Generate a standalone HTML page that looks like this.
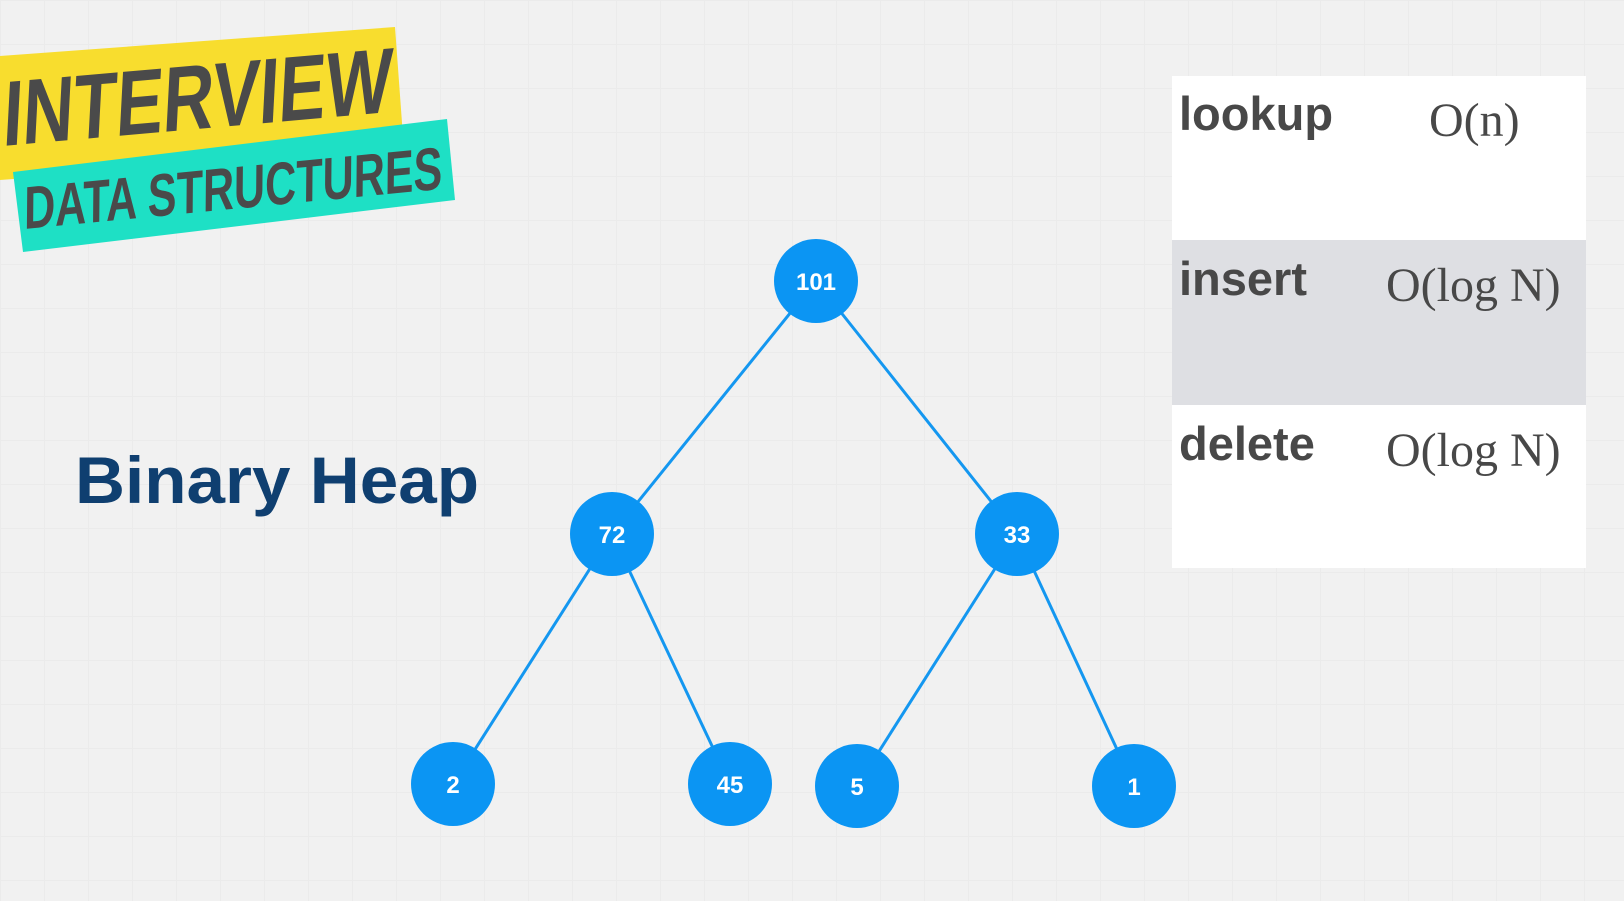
<!DOCTYPE html>
<html><head><meta charset="utf-8"><style>
html,body{margin:0;padding:0;}
body{width:1624px;height:901px;overflow:hidden;background:#f1f1f1;
background-image:linear-gradient(#ebebeb 1px,transparent 1px),linear-gradient(90deg,#ebebeb 1px,transparent 1px);
background-size:44px 44px;position:relative;font-family:"Liberation Sans",sans-serif;}
svg{position:absolute;left:0;top:0;}
</style></head><body>
<svg width="1624" height="901" viewBox="0 0 1624 901">
  <polygon points="0,56 395,27 404,150 0,180" fill="#f8dd2e"/>
  <text x="0" y="0" transform="translate(2,146) rotate(-5) skewX(-8)" font-family="'Liberation Sans Narrow','Liberation Sans',sans-serif" font-weight="bold" font-size="92" fill="#4a4a4a" textLength="390" lengthAdjust="spacingAndGlyphs">INTERVIEW</text>
  <polygon points="13,172 447,119 455,200 23,252" fill="#1ee0c5"/>
  <text x="0" y="0" transform="translate(24,229) rotate(-5.5) skewX(-6)" font-family="'Liberation Sans Narrow','Liberation Sans',sans-serif" font-weight="bold" font-size="60" fill="#4a4a4a" textLength="420" lengthAdjust="spacingAndGlyphs">DATA STRUCTURES</text>

  <text x="75" y="503" font-family="'Liberation Sans',sans-serif" font-weight="bold" font-size="66" fill="#0f3f70" textLength="404" lengthAdjust="spacingAndGlyphs">Binary Heap</text>

  <g stroke="#1497f0" stroke-width="3">
    <line x1="816" y1="281" x2="612" y2="534"/>
    <line x1="816" y1="281" x2="1017" y2="534"/>
    <line x1="612" y1="534" x2="453" y2="784"/>
    <line x1="612" y1="534" x2="730" y2="784"/>
    <line x1="1017" y1="534" x2="857" y2="786"/>
    <line x1="1017" y1="534" x2="1134" y2="786"/>
  </g>
  <g fill="#0b95f3">
    <circle cx="816" cy="281" r="42"/>
    <circle cx="612" cy="534" r="42"/>
    <circle cx="1017" cy="534" r="42"/>
    <circle cx="453" cy="784" r="42"/>
    <circle cx="730" cy="784" r="42"/>
    <circle cx="857" cy="786" r="42"/>
    <circle cx="1134" cy="786" r="42"/>
  </g>
  <g fill="#fff" font-family="'Liberation Sans',sans-serif" font-weight="bold" font-size="24" text-anchor="middle">
    <text x="816" y="290">101</text>
    <text x="612" y="543">72</text>
    <text x="1017" y="543">33</text>
    <text x="453" y="793">2</text>
    <text x="730" y="793">45</text>
    <text x="857" y="795">5</text>
    <text x="1134" y="795">1</text>
  </g>

  <rect x="1172" y="76" width="414" height="164" fill="#fff"/>
  <rect x="1172" y="240" width="414" height="165" fill="#dedfe3"/>
  <rect x="1172" y="405" width="414" height="163" fill="#fff"/>
  <g font-family="'Liberation Sans',sans-serif" font-weight="bold" font-size="47" fill="#484848">
    <text x="1179" y="130">lookup</text>
    <text x="1179" y="295">insert</text>
    <text x="1179" y="460">delete</text>
  </g>
  <g font-family="'Liberation Serif',serif" font-size="48" fill="#484848">
    <text x="1429" y="136">O(n)</text>
    <text x="1386" y="301">O(log N)</text>
    <text x="1386" y="466">O(log N)</text>
  </g>
</svg>
</body></html>
